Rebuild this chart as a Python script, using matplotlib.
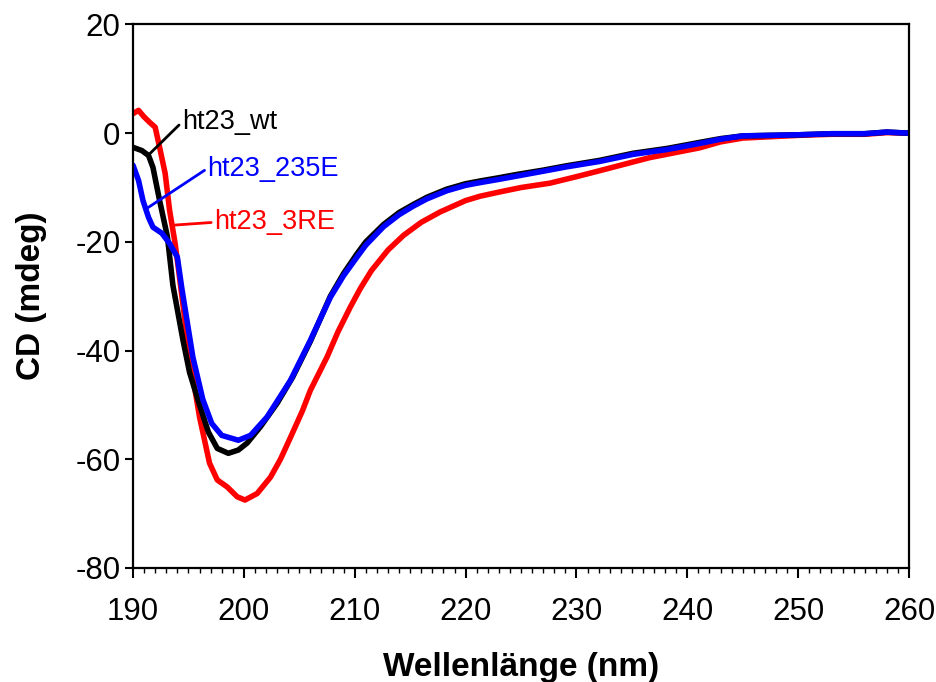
import numpy as np
import matplotlib
matplotlib.use("Agg")
import matplotlib.pyplot as plt
from matplotlib.ticker import MultipleLocator

plt.rcParams["font.family"] = ["Liberation Sans", "DejaVu Sans"]
plt.rcParams["axes.unicode_minus"] = False

# CD spectra (wavelength in nm, ellipticity in mdeg)
wl_wt = [190, 190.8, 191.4, 191.8, 192.4, 193.1, 193.6, 194.5, 195.1, 196.0, 196.8, 197.6,
         198.6, 199.5, 200.3, 201.5, 203.0, 204.4, 206.0, 207.8, 209.0, 210.2, 211.0, 212.6,
         214.0, 215.3, 216.5, 218.3, 220.0, 221.3, 223.0, 224.6, 227.0, 229.1, 232.1, 235.1,
         238.2, 241.1, 243.0, 245.0, 250.0, 253.0, 256.0, 258.0, 260.0]
cd_wt = [-2.6, -3.2, -4.1, -6.3, -12.4, -19.0, -28.0, -38.0, -44.0, -50.0, -55.0, -58.0,
         -58.9, -58.3, -57.0, -54.0, -49.7, -44.9, -38.3, -30.0, -25.8, -22.2, -20.0, -16.8,
         -14.6, -13.1, -11.8, -10.3, -9.3, -8.8, -8.2, -7.6, -6.8, -6.0, -5.0, -3.7,
         -2.8, -1.7, -1.0, -0.5, -0.3, -0.1, -0.1, 0.2, 0.0]

wl_235e = [190, 190.5, 190.9, 191.4, 191.8, 192.6, 193.3, 194.0, 194.4, 195.4, 196.3, 197.1,
           198.0, 199.5, 200.6, 202.1, 204.2, 206.0, 207.8, 209.0, 210.2, 211.0, 212.6, 214.0,
           215.3, 216.5, 218.3, 220.0, 221.3, 223.0, 224.6, 227.0, 229.1, 232.1, 235.1, 238.2,
           241.1, 243.0, 245.0, 250.0, 253.0, 256.0, 258.0, 260.0]
cd_235e = [-5.9, -8.7, -12.4, -15.5, -17.3, -18.4, -20.3, -22.8, -28.5, -41.2, -49.0, -53.4,
           -55.6, -56.5, -55.6, -52.2, -45.5, -38.1, -30.2, -26.2, -22.8, -20.6, -17.2, -15.0,
           -13.4, -12.1, -10.6, -9.6, -9.1, -8.5, -7.9, -7.0, -6.2, -5.2, -3.9, -3.0,
           -1.9, -1.1, -0.5, -0.3, -0.1, -0.1, 0.2, 0.0]

wl_3re = [190, 190.5, 191.0, 191.5, 192.0, 192.4, 192.9, 193.3, 193.8, 194.1, 195.1, 196.0,
          196.9, 197.6, 198.5, 199.4, 200.1, 201.2, 202.4, 203.3, 204.2, 205.3, 206.0, 207.5,
          208.5, 209.6, 210.5, 211.5, 213.0, 214.4, 216.0, 217.7, 220.0, 221.3, 223.1, 225.0,
          227.6, 230.0, 232.1, 236.6, 241.1, 243.0, 245.0, 250.0, 253.0, 256.0, 258.0, 260.0]
cd_3re = [3.6, 4.2, 3.0, 2.0, 1.1, -2.6, -7.4, -14.2, -20.3, -25.0, -41.2, -52.2,
          -60.7, -63.8, -65.1, -66.9, -67.5, -66.3, -63.3, -60.0, -56.0, -51.0, -47.3, -41.2,
          -36.5, -32.0, -28.6, -25.3, -21.5, -18.8, -16.4, -14.5, -12.4, -11.6, -10.8, -10.0,
          -9.2, -8.0, -6.9, -4.5, -2.7, -1.6, -0.9, -0.4, -0.2, -0.2, 0.1, 0.0]

fig = plt.figure(figsize=(9.36, 6.82), dpi=100)
ax = fig.add_axes([0.1421, 0.1672, 0.8291, 0.7969])

lw = 4.0
style = dict(lw=lw, solid_joinstyle="round", solid_capstyle="round")
ax.plot(wl_3re, cd_3re, color="#ff0000", **style)
ax.plot(wl_wt, cd_wt, color="black", **style)
ax.plot(wl_235e, cd_235e, color="#0000ff", **style)

# labels with leader lines
def tag(txt, xy, xytext, col):
    ax.annotate(txt, xy=xy, xytext=xytext, color=col, fontsize=19.5,
                va="center", ha="left",
                arrowprops=dict(arrowstyle="-", color=col, lw=2.0,
                                shrinkA=0, shrinkB=0, relpos=(0, 0.5)))

tag("ht23_wt", (191.35, -4.1), (194.4, 2.0), "black")
tag("ht23_235E", (191.35, -13.7), (196.7, -6.5), "#0000ff")
tag("ht23_3RE", (193.8, -16.9), (197.3, -16.4), "#ff0000")

ax.set_xlim(190, 260)
ax.set_ylim(-80, 20)
ax.xaxis.set_major_locator(MultipleLocator(10))
ax.xaxis.set_minor_locator(MultipleLocator(1))
ax.yaxis.set_major_locator(MultipleLocator(20))

for s in ax.spines.values():
    s.set_linewidth(1.6)

ax.tick_params(axis="y", which="major", direction="out", length=6, width=1.5, labelsize=22.5, pad=3)
ax.tick_params(axis="x", which="major", direction="out", length=7, width=1.5, labelsize=22.5, pad=14)
ax.tick_params(axis="x", which="minor", direction="out", length=3.5, width=1.0)

ax.set_xlabel("Wellenlänge (nm)", fontsize=24, fontweight="bold", labelpad=18)
ax.set_ylabel("CD (mdeg)", fontsize=24, fontweight="bold", labelpad=20)

fig.savefig("out.png", dpi=100)
